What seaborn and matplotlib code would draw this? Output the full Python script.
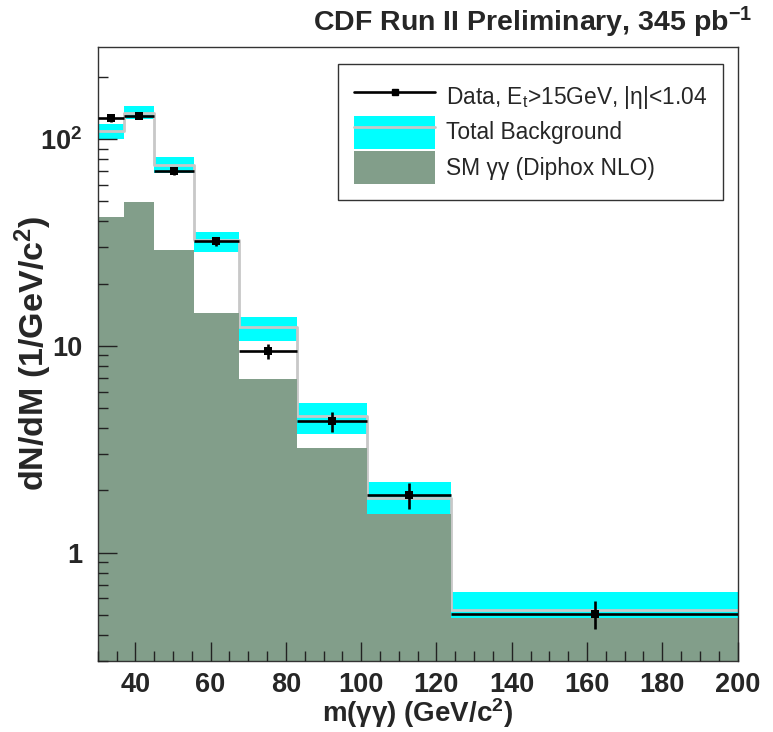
import numpy as np
import pandas as pd
import matplotlib
matplotlib.use("Agg")
import matplotlib.pyplot as plt
import seaborn as sns
from matplotlib.lines import Line2D
from matplotlib.patches import Patch
from matplotlib.ticker import FixedLocator, NullFormatter, MultipleLocator, LogLocator

# ---------------- data ----------------
bin_edges = [30, 37, 45, 55.5, 67.5, 83, 101.5, 124, 200]
data_vals = [126, 130, 70.5, 32.0, 9.43, 4.33, 1.90, 0.506]
data_errs = [5.5, 5.5, 3.2, 1.7, 0.75, 0.48, 0.28, 0.08]
bkg_vals = [110, 134, 75.2, 32.5, 12.3, 4.59, 1.83, 0.525]
bkg_lo = [100.4, 124.5, 68.8, 28.5, 10.6, 3.75, 1.54, 0.485]
bkg_hi = [118.6, 144.0, 81.8, 35.5, 13.8, 5.30, 2.19, 0.644]
sm_vals = [42.0, 49.6, 29.2, 14.5, 6.88, 3.19, 1.54, 0.485]

x_ticks = [40, 60, 80, 100, 120, 140, 160, 180, 200]
x_ticklabels = ["40", "60", "80", "100", "120", "140", "160", "180", "200"]
y_ticks = [1, 10, 100]
y_ticklabels = ["1", "10", r"$\mathbf{10^{2}}$"]

legend_labels = [r"Data, E$_{\mathrm{t}}$>15GeV, |η|<1.04",
                 "Total Background",
                 "SM γγ (Diphox NLO)"]
title_text = r"CDF Run II Preliminary, 345 pb$^{\mathbf{-1}}$"
xlabel_text = r"m(γγ) (GeV/c$^{\mathbf{2}}$)"
ylabel_text = r"dN/dM (1/GeV/c$^{\mathbf{2}}$)"

# ---------------- style ----------------
sns.set_style("white")
plt.rcParams.update({
    "font.family": ["Liberation Sans", "DejaVu Sans"],
    "mathtext.fontset": "custom",
    "mathtext.rm": "Liberation Sans",
    "mathtext.bf": "Liberation Sans:bold",
    "mathtext.it": "Liberation Sans:italic",
    "axes.edgecolor": "#333333",
    "axes.linewidth": 1.0,
})

CYAN = "#00ffff"
GREEN = "#829e8a"
GRAY = "#c8c8c8"

edges = np.array(bin_edges, dtype=float)
df = pd.DataFrame({
    "m": (edges[:-1] + edges[1:]) / 2,
    "left": edges[:-1],
    "width": np.diff(edges),
    "data": data_vals,
    "err": data_errs,
    "bkg": bkg_vals,
    "lo": bkg_lo,
    "hi": bkg_hi,
    "sm": sm_vals,
})

fig = plt.figure(figsize=(7.73, 7.32), dpi=100)
ax = fig.add_axes([0.1264, 0.0974, 0.8277, 0.8388])
ax.set_axisbelow(False)

# background uncertainty band
ax.bar(df["left"], df["hi"] - df["lo"], bottom=df["lo"], width=df["width"],
       align="edge", color=CYAN, linewidth=0, zorder=1.0)
# total background outline
sns.histplot(data=df, x="m", weights="bkg", bins=bin_edges, element="step",
             fill=False, color=GRAY, linewidth=2.0, ax=ax, zorder=1.5)
# SM diphoton
sns.histplot(data=df, x="m", weights="sm", bins=bin_edges, element="step",
             fill=True, color=GREEN, alpha=1.0, linewidth=0, ax=ax, zorder=2.0)
# data
ax.errorbar(df["m"], df["data"], xerr=df["width"] / 2, yerr=df["err"],
            fmt="none", ecolor="black", elinewidth=1.9, capsize=0, zorder=3)
sns.scatterplot(data=df, x="m", y="data", marker="s", s=28, color="black",
                edgecolor="black", linewidth=0, ax=ax, zorder=4)

ax.set_yscale("log")
ax.set_xlim(30, 200)
ax.set_ylim(0.3, 280)

ax.xaxis.set_major_locator(FixedLocator(x_ticks))
ax.set_xticklabels(x_ticklabels, fontweight="bold")
ax.xaxis.set_minor_locator(MultipleLocator(5))
ax.yaxis.set_major_locator(FixedLocator(y_ticks))
ax.set_yticklabels(y_ticklabels, fontweight="bold")
ax.yaxis.set_minor_locator(LogLocator(base=10, subs=np.arange(2, 10)))
ax.yaxis.set_minor_formatter(NullFormatter())

ax.tick_params(which="both", direction="in", bottom=True, left=True,
               top=False, right=False, color="#222222", width=1.0,
               labelsize=19.5)
ax.tick_params(which="major", length=13.5)
ax.tick_params(which="minor", length=7)
ax.tick_params(axis="x", which="major", pad=8)
ax.tick_params(axis="y", which="major", pad=11)

ax.set_xlabel(xlabel_text, fontsize=20, fontweight="bold")
ax.set_ylabel(ylabel_text, fontsize=24.5, fontweight="bold")
ax.xaxis.set_label_coords(0.5, -0.058)
ax.xaxis.label.set_va("top")
ax.yaxis.set_label_coords(-0.068, 0.5)

fig.text(0.973, 0.970, title_text, ha="right", va="center",
         fontsize=20.5, fontweight="bold")

handles = [
    Line2D([], [], color="black", lw=1.9, marker="s", markersize=5),
    (Patch(facecolor=CYAN, edgecolor="none"), Line2D([], [], color=GRAY, lw=2.0)),
    Patch(facecolor=GREEN, edgecolor="none"),
]
leg = ax.legend(handles, legend_labels, loc="upper left",
                bbox_to_anchor=(0.3756, 0.75, 0.6014, 0.222), mode="expand",
                borderaxespad=0, fancybox=False, framealpha=1,
                edgecolor="#333333", prop={"size": 16.4},
                handlelength=3.55, handleheight=1.85, handletextpad=0.48,
                labelspacing=0.1, borderpad=0.72)
leg.get_frame().set_linewidth(1.0)
leg.set_zorder(10)

fig.savefig("out.png", dpi=100)
